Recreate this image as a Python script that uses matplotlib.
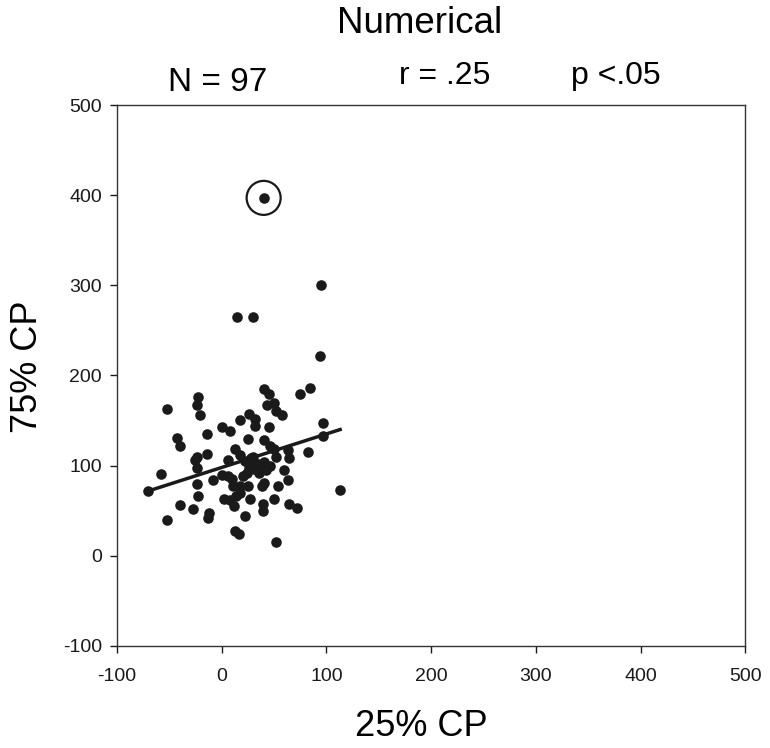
import matplotlib
matplotlib.use("Agg")
import matplotlib.pyplot as plt
from matplotlib import font_manager

names = {f.name for f in font_manager.fontManager.ttflist}
fam = ["Liberation Sans Narrow", "Liberation Sans", "DejaVu Sans"]
plt.rcParams['font.family'] = [f for f in fam if f in names] + ["DejaVu Sans"]
plt.rcParams['axes.unicode_minus'] = False

# data (25% CP, 75% CP)
x_vals = [94, 40, 45, 75, 84, -23, -24, -52, 43, 50, 52, 58, -21, 26, 32, 17, 32, 0, 45,
          -14, 8, 97, -43, -40, 25, 40, 97, 13, 46, 50, -14, -24, -26, 52, 63, 82, 64, 6, 17,
          29, 34, 31, 37, 40, 36, 26, 22, -24, -58, 59, 0, 6, -8, -24, 40, 63, 54, 11, 17, 25, 38,
          -70, 113, -23, 2, 8, 14, 17, 27, 50, -40, -27, 12, 39, 39, 64, 72, -12, -13, -52, 22,
          13, 16, 52, 40, 95, 15, 30,
          33, 28, 35, 42, 30, 20, 46, 10, 24]
y_vals = [222, 185, 180, 180, 186, 176, 167, 163, 167, 170, 161, 156, 156, 157, 152, 151, 144, 143, 143,
          135, 138, 147, 131, 122, 130, 129, 133, 119, 122, 118, 113, 110, 106, 110, 117, 115, 108, 106, 112,
          104, 100, 96, 98, 104, 92, 97, 105, 97, 91, 95, 90, 89, 84, 80, 81, 84, 77, 77, 77, 77, 77,
          72, 73, 66, 63, 62, 66, 70, 63, 63, 56, 52, 55, 58, 50, 58, 53, 48, 42, 40, 44,
          28, 24, 15, 397, 300, 265, 265,
          100, 108, 102, 95, 110, 88, 100, 85, 92]
n_label = "N = 97"
r_label = "r = .25"
p_label = "p <.05"
fit_slope = 0.372
fit_intercept = 98.0
outlier_index = 84

fig = plt.figure(figsize=(7.70, 7.48), dpi=100)
ax = fig.add_axes([0.152, 0.1364, 0.816, 0.7232])
ax.scatter(x_vals, y_vals, s=58, color="#1a1a1a", zorder=3, linewidths=0)
ax.scatter([x_vals[outlier_index]], [y_vals[outlier_index]], s=600, facecolors="none",
           edgecolors="#1a1a1a", linewidths=1.6, zorder=3)
xf = [min(x_vals), max(x_vals)]
yf = [fit_intercept + fit_slope * v for v in xf]
ax.plot(xf, yf, color="#1a1a1a", lw=2.5, zorder=4)

ax.set_xlim(-100, 500)
ax.set_ylim(-100, 500)
ax.set_xticks(range(-100, 501, 100))
ax.set_yticks(range(-100, 501, 100))
ax.tick_params(direction="out", length=5, width=1, labelsize=14, colors="#1a1a1a", pad=6)
ax.tick_params(axis="x", pad=11)
for s in ax.spines.values():
    s.set_linewidth(1.0)
    s.set_color("#333333")

fig.text(0.547, 0.029, "25% CP", fontsize=26, ha="center", va="center")
fig.text(0.036, 0.51, "75% CP", fontsize=26, ha="center", va="center", rotation=90)

fig.text(0.545, 0.968, "Numerical", fontsize=26.5, ha="center", va="center")
fig.text(0.283, 0.89, n_label, fontsize=24, ha="center", va="center")
fig.text(0.578, 0.899, r_label, fontsize=23, ha="center", va="center")
fig.text(0.80, 0.899, p_label, fontsize=23, ha="center", va="center")

fig.savefig("out.png", dpi=100, facecolor="white")
